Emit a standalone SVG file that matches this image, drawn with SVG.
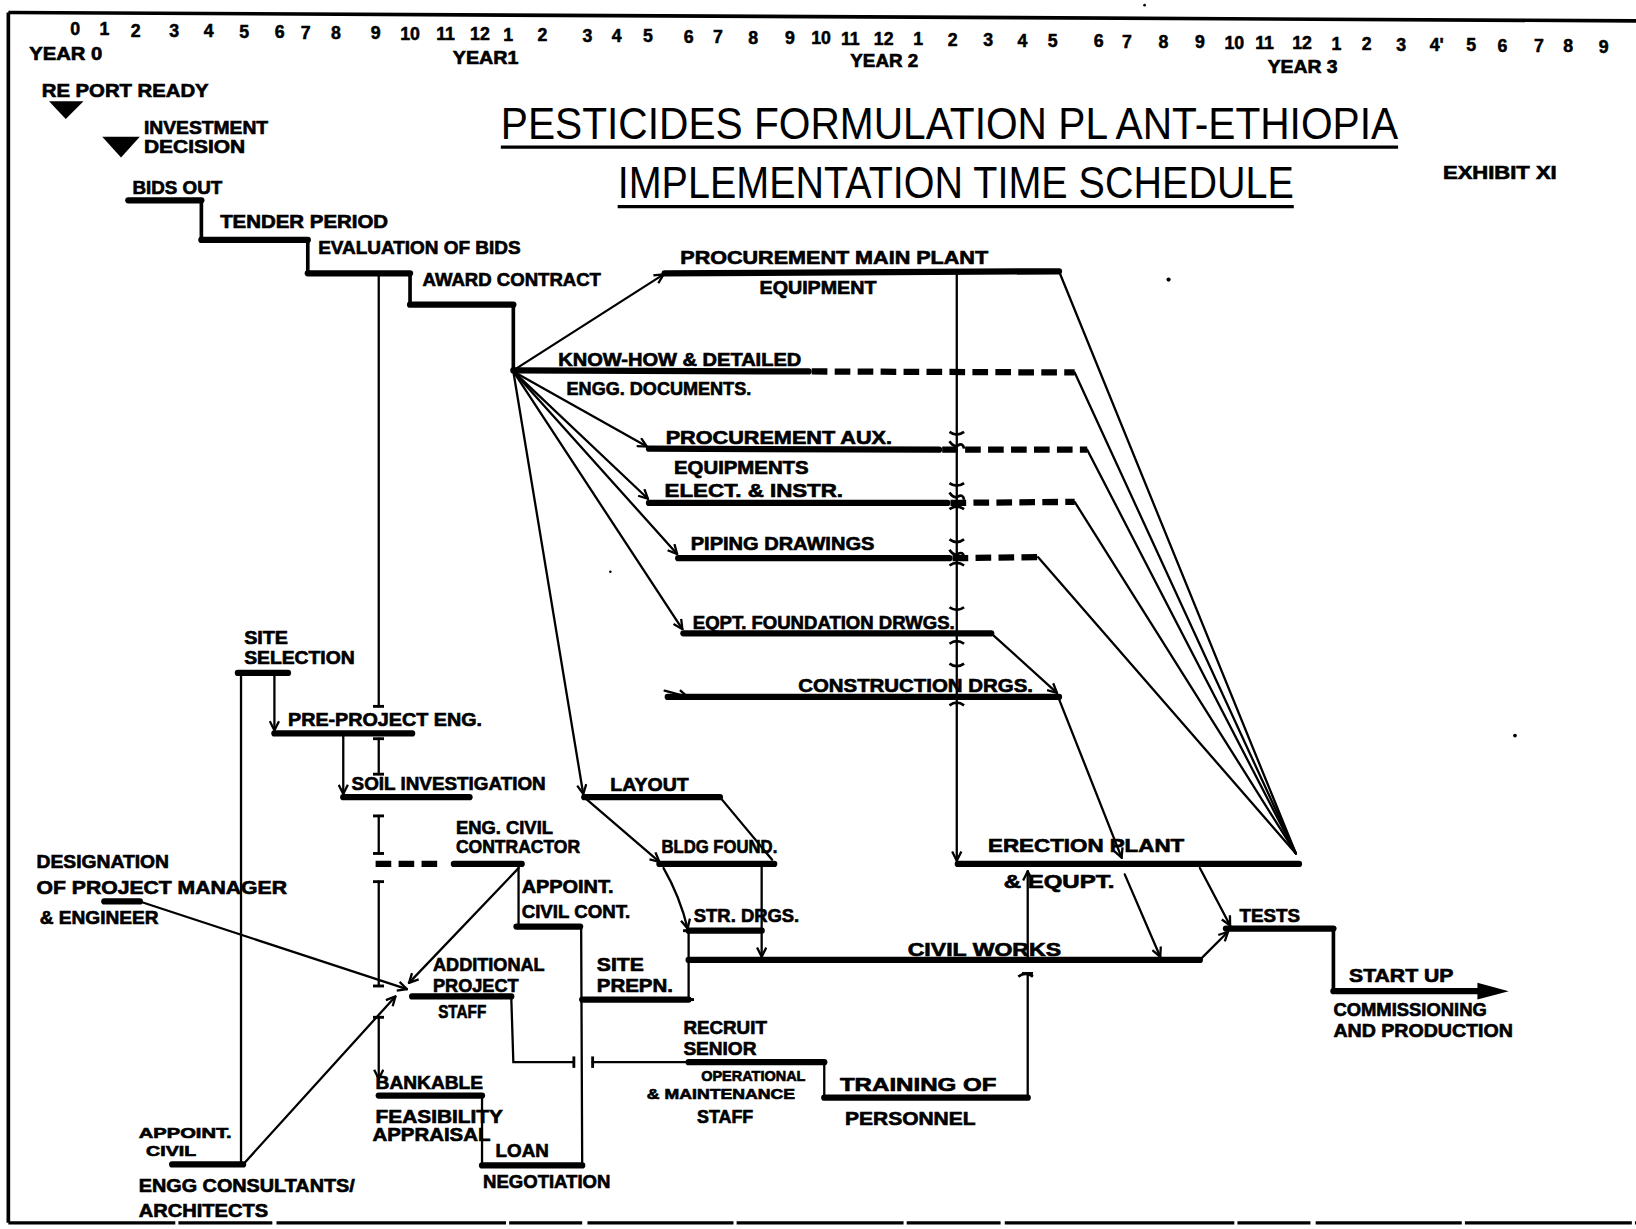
<svg xmlns="http://www.w3.org/2000/svg" width="1636" height="1229" viewBox="0 0 1636 1229">
<defs>
<style>
.b{stroke:#000;stroke-width:6;stroke-linecap:round;fill:none}
.d{stroke:#000;stroke-width:6;stroke-dasharray:15 7;fill:none}
.l{stroke:#000;stroke-width:2.2;fill:none;stroke-linecap:round}
.m{stroke:#000;stroke-width:3.5;fill:none;stroke-linecap:round}
.sq{stroke:#000;stroke-width:2.6;fill:none}
.t{font-family:"Liberation Sans",Arial,sans-serif;font-weight:bold;font-size:17px;fill:#000;stroke:#000;stroke-width:0.6}
.s{font-size:14px}
.n{font-family:"Liberation Sans",Arial,sans-serif;font-weight:bold;font-size:17px;fill:#000;text-anchor:middle;stroke:#000;stroke-width:0.5}
.h{font-family:"Liberation Sans",Arial,sans-serif;font-size:42px;fill:#000}
</style>
<marker id="a" viewBox="0 0 10 10" refX="9" refY="5" markerWidth="5" markerHeight="5" orient="auto"><path d="M1,1 L9,5 L1,9" fill="none" stroke="#000" stroke-width="2"/></marker>
<marker id="tc" viewBox="0 0 10 10" refX="5" refY="5" markerWidth="5" markerHeight="5" orient="auto"><path d="M5,0 L5,10" fill="none" stroke="#000" stroke-width="2.5"/></marker>
</defs>
<rect width="1636" height="1229" fill="#fff"/>
<g transform="scale(1.04337)">
<g id="frame">
<line x1="8" y1="12" x2="1568" y2="20" stroke="#000" stroke-width="3.5"/>
<line x1="8" y1="12" x2="8" y2="1172" stroke="#000" stroke-width="3.5"/>
<line x1="8" y1="1172" x2="1568" y2="1172" stroke="#000" stroke-width="3" stroke-dasharray="160 3 90 4 220 3 70 5 140 3"/>
<circle cx="1097" cy="5" r="1.3"/><circle cx="1120" cy="268" r="2"/><circle cx="1452" cy="705" r="1.8"/><circle cx="585" cy="548" r="1.2"/>
</g>
<g id="axis">
<text class="n" x="72" y="34">0</text><text class="n" x="100" y="34">1</text><text class="n" x="130" y="35">2</text><text class="n" x="167" y="35">3</text><text class="n" x="200" y="35">4</text><text class="n" x="234" y="36">5</text><text class="n" x="268" y="36">6</text><text class="n" x="293" y="37">7</text><text class="n" x="322" y="37">8</text><text class="n" x="360" y="37">9</text><text class="n" x="393" y="38">10</text><text class="n" x="427" y="38">11</text><text class="n" x="460" y="38">12</text><text class="n" x="487" y="39">1</text><text class="n" x="520" y="39">2</text><text class="n" x="563" y="40">3</text><text class="n" x="591" y="40">4</text><text class="n" x="621" y="40">5</text><text class="n" x="660" y="41">6</text><text class="n" x="688" y="41">7</text><text class="n" x="722" y="42">8</text><text class="n" x="757" y="42">9</text><text class="n" x="787" y="42">10</text><text class="n" x="815" y="43">11</text><text class="n" x="847" y="43">12</text><text class="n" x="880" y="43">1</text><text class="n" x="913" y="44">2</text><text class="n" x="947" y="44">3</text><text class="n" x="980" y="45">4</text><text class="n" x="1009" y="45">5</text><text class="n" x="1053" y="45">6</text><text class="n" x="1080" y="46">7</text><text class="n" x="1115" y="46">8</text><text class="n" x="1150" y="46">9</text><text class="n" x="1183" y="47">10</text><text class="n" x="1212" y="47">11</text><text class="n" x="1248" y="47">12</text><text class="n" x="1281" y="48">1</text><text class="n" x="1310" y="48">2</text><text class="n" x="1343" y="49">3</text><text class="n" x="1377" y="49">4'</text><text class="n" x="1410" y="49">5</text><text class="n" x="1440" y="50">6</text><text class="n" x="1475" y="50">7</text><text class="n" x="1503" y="50">8</text><text class="n" x="1537" y="51">9</text>
<text class="t" x="28" y="58" textLength="70" lengthAdjust="spacingAndGlyphs">YEAR 0</text>
<text class="t" x="434" y="61" textLength="63" lengthAdjust="spacingAndGlyphs">YEAR1</text>
<text class="t" x="815" y="64" textLength="65" lengthAdjust="spacingAndGlyphs">YEAR 2</text>
<text class="t" x="1215" y="70" textLength="67" lengthAdjust="spacingAndGlyphs">YEAR 3</text>
</g>
<g id="title">
<text class="h" x="480" y="133" textLength="860" lengthAdjust="spacingAndGlyphs">PESTICIDES  FORMULATION  PL ANT-ETHIOPIA</text>
<line x1="480" y1="141" x2="1340" y2="141" stroke="#000" stroke-width="3"/>
<text class="h" x="592" y="190" textLength="648" lengthAdjust="spacingAndGlyphs">IMPLEMENTATION  TIME  SCHEDULE</text>
<line x1="592" y1="198" x2="1240" y2="198" stroke="#000" stroke-width="3"/>
<text class="t" x="1383" y="172" textLength="109" lengthAdjust="spacingAndGlyphs">EXHIBIT  XI</text>
</g>
<g id="report-ready">
<text class="t" x="40" y="93" textLength="160" lengthAdjust="spacingAndGlyphs">RE PORT  READY</text>
<polygon points="47,97 80,97 63,114" fill="#000"/>
</g>
<g id="investment-decision">
<text class="t" x="138" y="128" textLength="119" lengthAdjust="spacingAndGlyphs">INVESTMENT</text>
<text class="t" x="138" y="147" textLength="97" lengthAdjust="spacingAndGlyphs">DECISION</text>
<polygon points="98,131 134,131 116,151" fill="#000"/>
</g>
<g id="bids-out"><line class="b" x1="123" y1="192" x2="193" y2="192"/><text class="t" x="127" y="186" textLength="86" lengthAdjust="spacingAndGlyphs">BIDS OUT</text></g>
<g id="tender-period"><line class="b" x1="193" y1="230" x2="295" y2="230" stroke-width="5"/><text class="t" x="211" y="219" textLength="161" lengthAdjust="spacingAndGlyphs">TENDER PERIOD</text></g>
<g id="evaluation"><line class="b" x1="295" y1="262" x2="393" y2="262"/><text class="t" x="305" y="243" textLength="194" lengthAdjust="spacingAndGlyphs">EVALUATION  OF BIDS</text></g>
<g id="award"><line class="b" x1="393" y1="292" x2="492" y2="292"/><text class="t" x="405" y="274" textLength="171" lengthAdjust="spacingAndGlyphs">AWARD  CONTRACT</text></g>
<g id="proc-main"><line class="b" x1="637" y1="262" x2="1015" y2="260"/><text class="t" x="652" y="253" textLength="295" lengthAdjust="spacingAndGlyphs">PROCUREMENT   MAIN   PLANT</text><text class="t" x="728" y="282" textLength="112" lengthAdjust="spacingAndGlyphs">EQUIPMENT</text></g>
<g id="know-how"><line class="b" x1="492" y1="355" x2="775" y2="356"/><line class="d" x1="778" y1="356" x2="1030" y2="357"/><text class="t" x="535" y="351" textLength="233" lengthAdjust="spacingAndGlyphs">KNOW-HOW &amp; DETAILED</text><text class="t" x="543" y="379" textLength="177" lengthAdjust="spacingAndGlyphs">ENGG. DOCUMENTS.</text></g>
<g id="proc-aux"><line class="b" x1="622" y1="430" x2="900" y2="431"/><line class="d" x1="903" y1="431" x2="1042" y2="431"/><text class="t" x="638" y="426" textLength="217" lengthAdjust="spacingAndGlyphs">PROCUREMENT  AUX.</text><text class="t" x="646" y="454" textLength="129" lengthAdjust="spacingAndGlyphs">EQUIPMENTS</text></g>
<g id="elect"><line class="b" x1="622" y1="482" x2="908" y2="482"/><line class="d" x1="911" y1="482" x2="1030" y2="481"/><text class="t" x="637" y="476" textLength="171" lengthAdjust="spacingAndGlyphs">ELECT. &amp; INSTR.</text></g>
<g id="piping"><line class="b" x1="650" y1="535" x2="910" y2="535"/><line class="d" x1="913" y1="535" x2="995" y2="534"/><text class="t" x="662" y="527" textLength="176" lengthAdjust="spacingAndGlyphs">PIPING  DRAWINGS</text></g>
<g id="eqpt-foundation"><line class="b" x1="655" y1="607" x2="950" y2="607"/><text class="t" x="664" y="603" textLength="251" lengthAdjust="spacingAndGlyphs">EQPT. FOUNDATION DRWGS.</text></g>
<g id="construction"><line class="b" x1="640" y1="668" x2="1015" y2="668"/><text class="t" x="765" y="663" textLength="225" lengthAdjust="spacingAndGlyphs">CONSTRUCTION  DRGS.</text></g>
<g id="erection"><line class="b" x1="918" y1="828" x2="1245" y2="828" stroke-width="7"/><text class="t" x="947" y="817" textLength="188" lengthAdjust="spacingAndGlyphs">ERECTION   PLANT</text><text class="t" x="962" y="851" textLength="106" lengthAdjust="spacingAndGlyphs">&amp;   EQUPT.</text></g>
<g id="civil-works"><line class="b" x1="660" y1="920" x2="1150" y2="920"/><text class="t" x="870" y="916" textLength="147" lengthAdjust="spacingAndGlyphs">CIVIL   WORKS</text></g>
<g id="tests"><line class="b" x1="1175" y1="890" x2="1278" y2="890"/><text class="t" x="1188" y="884" textLength="58" lengthAdjust="spacingAndGlyphs">TESTS</text></g>
<g id="start-up"><line class="b" x1="1278" y1="950" x2="1420" y2="950"/><polygon points="1416,942 1446,950 1416,958" fill="#000"/><text class="t" x="1293" y="941" textLength="100" lengthAdjust="spacingAndGlyphs">START  UP</text><text class="t" x="1278" y="974" textLength="147" lengthAdjust="spacingAndGlyphs">COMMISSIONING</text><text class="t" x="1278" y="994" textLength="172" lengthAdjust="spacingAndGlyphs">AND  PRODUCTION</text></g>
<g id="site-selection"><line class="b" x1="228" y1="645" x2="276" y2="645"/><text class="t" x="234" y="617" textLength="42" lengthAdjust="spacingAndGlyphs">SITE</text><text class="t" x="234" y="636" textLength="106" lengthAdjust="spacingAndGlyphs">SELECTION</text></g>
<g id="pre-project"><line class="b" x1="263" y1="703" x2="395" y2="703"/><text class="t" x="276" y="696" textLength="186" lengthAdjust="spacingAndGlyphs">PRE-PROJECT   ENG.</text></g>
<g id="soil"><line class="b" x1="329" y1="764" x2="450" y2="764"/><text class="t" x="337" y="757" textLength="186" lengthAdjust="spacingAndGlyphs">SOIL  INVESTIGATION</text></g>
<g id="eng-civil-contractor"><line class="d" x1="360" y1="828" x2="425" y2="828"/><line class="b" x1="435" y1="828" x2="500" y2="828"/><text class="t" x="437" y="799" textLength="93" lengthAdjust="spacingAndGlyphs">ENG. CIVIL</text><text class="t" x="437" y="818" textLength="119" lengthAdjust="spacingAndGlyphs">CONTRACTOR</text></g>
<g id="appoint-civil-cont"><line class="b" x1="495" y1="888" x2="556" y2="888"/><text class="t" x="500" y="856" textLength="88" lengthAdjust="spacingAndGlyphs">APPOINT.</text><text class="t" x="500" y="880" textLength="104" lengthAdjust="spacingAndGlyphs">CIVIL  CONT.</text></g>
<g id="layout"><line class="b" x1="560" y1="764" x2="690" y2="764"/><text class="t" x="585" y="758" textLength="75" lengthAdjust="spacingAndGlyphs">LAYOUT</text></g>
<g id="bldg-found"><line class="b" x1="632" y1="828" x2="742" y2="828"/><text class="t" x="634" y="818" textLength="111" lengthAdjust="spacingAndGlyphs">BLDG FOUND.</text></g>
<g id="str-drgs"><line class="b" x1="660" y1="892" x2="730" y2="892"/><text class="t" x="665" y="884" textLength="101" lengthAdjust="spacingAndGlyphs">STR. DRGS.</text></g>
<g id="site-prepn"><line class="b" x1="558" y1="958" x2="660" y2="958"/><text class="t" x="572" y="931" textLength="45" lengthAdjust="spacingAndGlyphs">SITE</text><text class="t" x="572" y="951" textLength="73" lengthAdjust="spacingAndGlyphs">PREPN.</text></g>
<g id="designation"><line class="b" x1="100" y1="864" x2="134" y2="864"/><text class="t" x="35" y="832" textLength="127" lengthAdjust="spacingAndGlyphs">DESIGNATION</text><text class="t" x="35" y="857" textLength="240" lengthAdjust="spacingAndGlyphs">OF  PROJECT   MANAGER</text><text class="t" x="38" y="886" textLength="114" lengthAdjust="spacingAndGlyphs">&amp; ENGINEER</text></g>
<g id="additional-staff"><line class="b" x1="395" y1="955" x2="490" y2="955"/><text class="t" x="415" y="931" textLength="107" lengthAdjust="spacingAndGlyphs">ADDITIONAL</text><text class="t" x="415" y="951" textLength="82" lengthAdjust="spacingAndGlyphs">PROJECT</text><text class="t" x="420" y="976" textLength="46" lengthAdjust="spacingAndGlyphs">STAFF</text></g>
<g id="appoint-civil-engg"><line class="b" x1="165" y1="1116" x2="233" y2="1116"/><text class="t s" x="133" y="1091" textLength="89" lengthAdjust="spacingAndGlyphs">APPOINT.</text><text class="t s" x="140" y="1108" textLength="48" lengthAdjust="spacingAndGlyphs">CIVIL</text><text class="t" x="133" y="1142" textLength="207" lengthAdjust="spacingAndGlyphs">ENGG  CONSULTANTS/</text><text class="t" x="133" y="1166" textLength="124" lengthAdjust="spacingAndGlyphs">ARCHITECTS</text></g>
<g id="bankable"><line class="b" x1="363" y1="1050" x2="462" y2="1050"/><text class="t" x="360" y="1044" textLength="103" lengthAdjust="spacingAndGlyphs">BANKABLE</text><text class="t" x="360" y="1076" textLength="122" lengthAdjust="spacingAndGlyphs">FEASIBILITY</text><text class="t" x="357" y="1094" textLength="113" lengthAdjust="spacingAndGlyphs">APPRAISAL</text></g>
<g id="loan"><line class="b" x1="462" y1="1117" x2="558" y2="1117"/><text class="t" x="475" y="1109" textLength="51" lengthAdjust="spacingAndGlyphs">LOAN</text><text class="t" x="463" y="1139" textLength="122" lengthAdjust="spacingAndGlyphs">NEGOTIATION</text></g>
<g id="recruit"><line class="b" x1="660" y1="1018" x2="790" y2="1018"/><text class="t" x="655" y="991" textLength="80" lengthAdjust="spacingAndGlyphs">RECRUIT</text><text class="t" x="655" y="1011" textLength="70" lengthAdjust="spacingAndGlyphs">SENIOR</text><text class="t s" x="672" y="1036" textLength="100" lengthAdjust="spacingAndGlyphs">OPERATIONAL</text><text class="t s" x="620" y="1053" textLength="142" lengthAdjust="spacingAndGlyphs">&amp; MAINTENANCE</text><text class="t" x="668" y="1076" textLength="54" lengthAdjust="spacingAndGlyphs">STAFF</text></g>
<g id="training"><line class="b" x1="790" y1="1052" x2="985" y2="1052"/><text class="t" x="805" y="1046" textLength="150" lengthAdjust="spacingAndGlyphs">TRAINING    OF</text><text class="t" x="810" y="1078" textLength="125" lengthAdjust="spacingAndGlyphs">PERSONNEL</text></g>
<g id="connectors">
<line class="m" x1="193" y1="192" x2="193" y2="230"/>
<line class="m" x1="295" y1="230" x2="295" y2="262"/>
<line class="m" x1="393" y1="262" x2="393" y2="292"/>
<line class="m" x1="492" y1="292" x2="492" y2="355"/>
<line class="l" x1="492" y1="355" x2="636" y2="263" marker-end="url(#a)"/>
<line class="l" x1="492" y1="356" x2="620" y2="428" marker-end="url(#a)"/>
<line class="l" x1="492" y1="356" x2="621" y2="478" marker-end="url(#a)"/>
<line class="l" x1="492" y1="356" x2="649" y2="531" marker-end="url(#a)"/>
<line class="l" x1="492" y1="356" x2="654" y2="603" marker-end="url(#a)"/>
<line class="l" x1="492" y1="356" x2="559" y2="761" marker-end="url(#a)"/>
<line class="l" x1="363" y1="262" x2="363" y2="677" marker-end="url(#tc)"/>
<line class="l" x1="263" y1="645" x2="263" y2="700" marker-end="url(#a)"/>
<line class="l" x1="231" y1="645" x2="231" y2="1116"/>
<line class="l" x1="329" y1="703" x2="329" y2="761" marker-end="url(#a)"/>
<line class="l" x1="363" y1="708" x2="363" y2="742" marker-start="url(#tc)" marker-end="url(#tc)"/>
<line class="l" x1="363" y1="782" x2="363" y2="818" marker-start="url(#tc)" marker-end="url(#tc)"/>
<line class="l" x1="363" y1="845" x2="363" y2="945" marker-start="url(#tc)" marker-end="url(#tc)"/>
<line class="l" x1="363" y1="975" x2="363" y2="1034" marker-start="url(#tc)" marker-end="url(#a)"/>
<line class="l" x1="497" y1="828" x2="497" y2="888"/>
<line class="l" x1="557" y1="888" x2="558" y2="1117"/>
<line class="l" x1="497" y1="832" x2="392" y2="942" marker-end="url(#a)"/>
<line class="l" x1="134" y1="864" x2="390" y2="948" marker-end="url(#a)"/>
<line class="l" x1="233" y1="1116" x2="379" y2="955" marker-end="url(#a)"/>
<polyline class="l" points="490,955 492,1018 550,1018" marker-end="url(#tc)"/>
<line class="l" x1="568" y1="1018" x2="660" y2="1018" marker-start="url(#tc)"/>
<line class="l" x1="462" y1="1050" x2="462" y2="1117"/>
<line class="l" x1="790" y1="1018" x2="790" y2="1052"/>
<line class="l" x1="985" y1="1052" x2="985" y2="933" marker-end="url(#tc)"/>
<line class="l" x1="690" y1="764" x2="740" y2="824"/>
<line class="l" x1="562" y1="766" x2="632" y2="826" marker-end="url(#a)"/>
<path class="l" d="M636,832 Q652,860 659,890" marker-end="url(#a)"/>
<line class="l" x1="660" y1="892" x2="660" y2="958" marker-start="url(#tc)" marker-end="url(#tc)"/>
<line class="l" x1="730" y1="828" x2="730" y2="917" marker-end="url(#a)"/>
<line class="l" x1="917" y1="262" x2="917" y2="825" marker-end="url(#a)"/>
<line class="l" x1="985" y1="920" x2="985" y2="835" marker-end="url(#a)"/>
<line class="l" x1="1078" y1="838" x2="1112" y2="917" marker-end="url(#a)"/>
<line class="l" x1="1150" y1="832" x2="1179" y2="887" marker-end="url(#a)"/>
<line class="l" x1="1150" y1="920" x2="1177" y2="893" marker-end="url(#a)"/>
<line class="m" x1="1278" y1="890" x2="1278" y2="950"/>
<line class="l" x1="950" y1="607" x2="1013" y2="664" marker-end="url(#a)"/>
<line class="l" x1="1015" y1="670" x2="1075" y2="822" marker-end="url(#a)"/>
<line class="l" x1="637" y1="662" x2="659" y2="668" marker-end="url(#a)"/>
<line class="l" x1="1015" y1="260" x2="1242" y2="818"/>
<line class="l" x1="1030" y1="357" x2="1242" y2="818"/>
<line class="l" x1="1042" y1="431" x2="1242" y2="818"/>
<line class="l" x1="1030" y1="481" x2="1242" y2="818"/>
<line class="l" x1="995" y1="534" x2="1242" y2="818"/>
<path class="sq" d="M910,414 q7,5 14,0 M910,423 q4,6 8,4 q5,-3 6,3 M910,463 q7,5 14,0 M910,472 q4,6 8,4 q5,-3 6,3 M910,488 q7,-5 14,0 M910,517 q7,5 14,0 M910,527 q4,6 8,4 q5,-3 6,3 M910,542 q7,-5 14,0 M910,582 q7,5 14,0 M910,617 q7,-5 14,0 M910,636 q7,5 14,0 M910,676 q7,-5 14,0 M976,936 q7,-5 14,0"/>
</g>
</g>
</svg>
